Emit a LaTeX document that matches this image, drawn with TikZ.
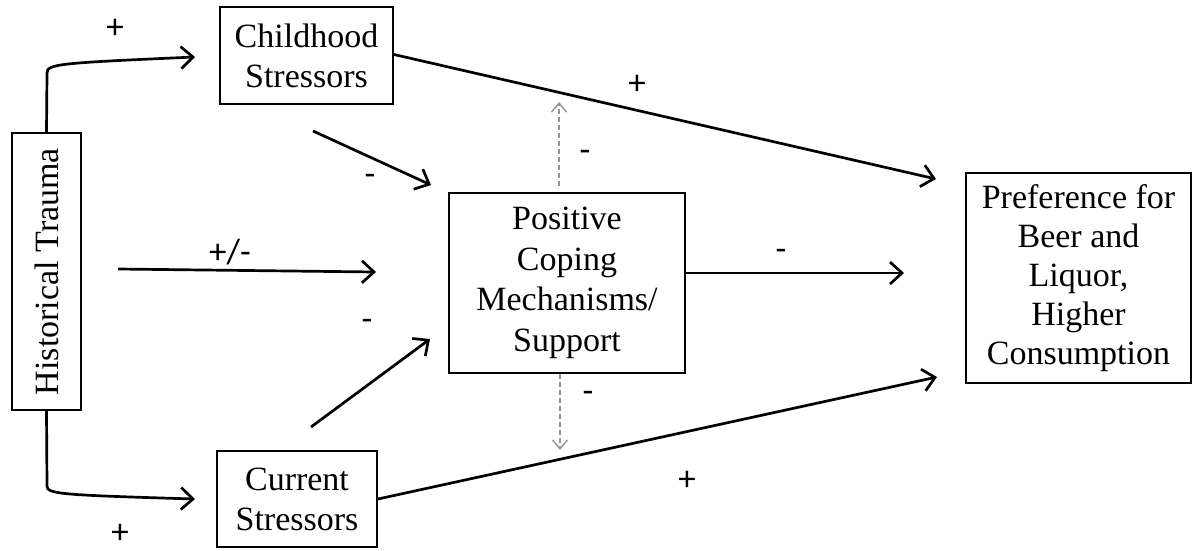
\documentclass[tikz,border=0pt]{standalone}
\usepackage{fontspec}
\setmainfont{Liberation Serif}
\newfontfamily\signfont{Carlito}
\usetikzlibrary{arrows.meta}

\tikzset{
  box/.style={draw, line width=1.9pt, inner sep=0pt, align=center,
    font=\fontsize{34}{40}\selectfont},
  link/.style={line width=2.7pt, -{Straight Barb[length=12pt,width=22pt,line width=2.7pt]}},
  feedback/.style={draw=black!42, line width=1.4pt, dash pattern=on 5pt off 3pt,
    -{Straight Barb[length=9pt,width=15pt,line width=1.4pt]}},
  sign/.style={font=\signfont\fontsize{35}{36}\selectfont, inner sep=0pt}
}

\begin{document}
\begin{tikzpicture}[x=1pt, y=-1pt]
\useasboundingbox (0,0) rectangle (1193,550);

% boxes
\node[box, minimum width=173pt, minimum height=97pt] (child) at (306.5,55.5) {Childhood\\Stressors};
\node[box, minimum width=160pt, minimum height=96pt] (curr) at (297,499) {Current\\Stressors};
\node[box, rotate=90, minimum width=277pt, minimum height=69pt] (hist) at (46.5,271.5) {Historical Trauma};
\node[box, minimum width=236pt, minimum height=180pt, font=\fontsize{34}{40.7}\selectfont] (cope) at (567,283) {Positive\\Coping\\Mechanisms/\\Support};
\node[box, minimum width=225pt, minimum height=210pt, font=\fontsize{34}{39}\selectfont] (pref) at (1078.5,278) {Preference for\\Beer and\\Liquor,\\Higher\\Consumption};

% free arrow ends
\coordinate (childTip) at (195,57);
\coordinate (currTip) at (195,499);
\coordinate (histStart) at (118,269);
\coordinate (histTip) at (376,272);
\coordinate (childLow) at (313,131);
\coordinate (childLowTip) at (431,185);
\coordinate (currUp) at (311,427);
\coordinate (currUpTip) at (430,339);
\coordinate (prefTopTip) at (936,179);
\coordinate (prefBotTip) at (937,377);
\coordinate (copeTip) at (904,273);
\coordinate (upStart) at (559,186);
\coordinate (upTip) at (559,102);
\coordinate (downTip) at (560,450);

% historical trauma branches
\draw[link] (hist.east) -- (47,73) .. controls (47,64) and (58,63) .. (childTip);
\draw[link] (hist.west) -- (47,486) .. controls (47,494) and (60,495) .. (currTip);
\draw[link] (histStart) -- (histTip);

% stressors to coping
\draw[link] (childLow) -- (childLowTip);
\draw[link] (currUp) -- (currUpTip);

% paths to preference
\draw[link] (child.east |- 0,54.5) -- (prefTopTip);
\draw[link] (curr.east |- 0,499) -- (prefBotTip);
\draw[link] (cope.east |- 0,273) -- (copeTip);

% moderating effects of coping
\draw[feedback] (upStart) -- (upTip);
\draw[feedback] (cope.south -| downTip) -- (downTip);

% signs
\node[sign] (s1) at (115,29) {+};
\node[sign] (s2) at (120,534) {+};
\node[sign] (s3) at (230,252) {+/-};
\node[sign] (s4) at (370,180) {-};
\node[sign] (s5) at (367,325) {-};
\node[sign] (s6) at (637,85) {+};
\node[sign] (s7) at (585,156) {-};
\node[sign] (s8) at (588,397) {-};
\node[sign] (s9) at (687,481) {+};
\node[sign] (s10) at (781,255) {-};
\end{tikzpicture}
\end{document}
